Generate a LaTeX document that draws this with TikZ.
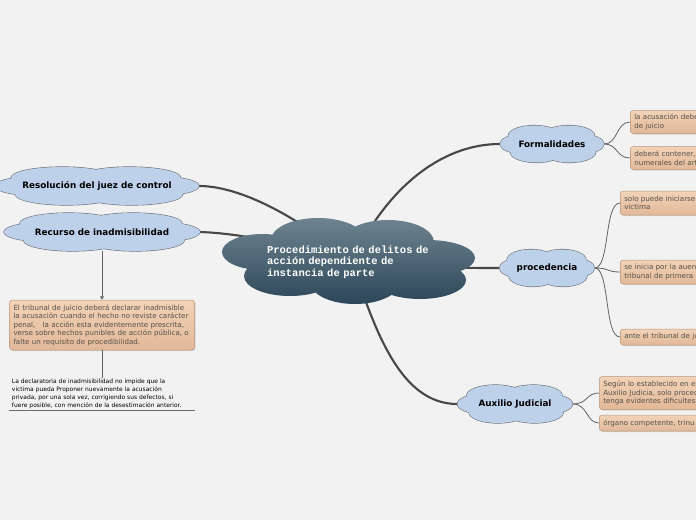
\documentclass[tikz,border=0pt]{standalone}
\usepackage{fontspec}
\setmainfont{DejaVu Sans}
\newfontfamily\monofont{Liberation Mono}
\usetikzlibrary{shadows,arrows.meta}
\definecolor{fondo}{HTML}{F2F2F2}
\definecolor{celeste}{HTML}{BDD1EA}
\definecolor{bordenube}{HTML}{6F7378}
\definecolor{pizarraA}{HTML}{6E838F}
\definecolor{pizarraB}{HTML}{2C4659}
\definecolor{cajaA}{HTML}{F2D3B8}
\definecolor{cajaB}{HTML}{E2B898}
\definecolor{cajaborde}{HTML}{B8957A}
\definecolor{textocaja}{HTML}{555049}
\definecolor{rama}{HTML}{474747}
\pgfdeclarelayer{fondocapa}
\pgfdeclarelayer{lineas}
\pgfsetlayers{fondocapa,lineas,main}
\tikzset{
  nubetexto/.style={rectangle, inner sep=0pt, font=\bfseries\fontsize{8.8}{10}\selectfont},
  caja/.style={rectangle, rounded corners=3pt, draw=cajaborde, line width=0.5pt,
    top color=cajaA, bottom color=cajaB, text=textocaja, align=left,
    inner xsep=4pt, inner ysep=2pt, font=\fontsize{7.1}{8.5}\selectfont,
    drop shadow={opacity=0.25, shadow xshift=1pt, shadow yshift=-1pt}},
  cajader/.style={caja, anchor=west, text width=140pt},
  ramagruesa/.style={draw=rama, line width=2.1pt, line cap=round},
  ramita/.style={draw=rama!85, line width=0.8pt}
}
% contorno de nube en unidades normalizadas (ancho 1, alto 1)
\newcommand\caminonube{(-0.17,-0.22) ellipse (0.25 and 0.28)
  (0.16,-0.22) ellipse (0.25 and 0.28)
  (-0.30,0) ellipse (0.20 and 0.25)
  (0.30,0) ellipse (0.20 and 0.25)
  (-0.15,0.22) ellipse (0.25 and 0.28)
  (0.17,0.22) ellipse (0.25 and 0.28)
  (0,0) ellipse (0.40 and 0.30)}
% nube azul: nombre, x, y, ancho, alto, texto
\newcommand\nubeazul[6]{%
  \begin{scope}[shift={(#2,#3)}, xscale=#4, yscale=#5]
    \draw[bordenube, line width=1.2pt] \caminonube;
    \fill[celeste] \caminonube;
  \end{scope}
  \node[nubetexto, minimum width=#4pt, minimum height=#5pt] (#1) at (#2,#3) {#6};
}
\begin{document}
\begin{tikzpicture}[x=1pt, y=-1pt]
\useasboundingbox (0,0) rectangle (696,520);
\clip (0,0) rectangle (696,520);
\begin{pgfonlayer}{fondocapa}
\fill[fondo] (0,0) rectangle (696,520);
\end{pgfonlayer}

% nodo central
\shade[top color=pizarraA, bottom color=pizarraB]
  (318,240) ellipse (47 and 22) (388,242) ellipse (46 and 22)
  (262,252) ellipse (40 and 18) (428,258) ellipse (47 and 18)
  (290,276) ellipse (46 and 20) (355,282) ellipse (45 and 22)
  (420,280) ellipse (46 and 19) (348,262) ellipse (90 and 25);
\node[text=white, text width=170pt, align=left, inner sep=0pt,
  font=\monofont\bfseries\fontsize{10.5}{11.7}\selectfont]
  (centro) at (352,262) {Procedimiento de delitos de\\acción dependiente de\\instancia de parte};

% ramas
\nubeazul{resol}{97}{186}{204}{38}{Resolución del juez de control}
\nubeazul{recurso}{102}{232}{196}{38}{Recurso de inadmisibilidad}
\nubeazul{formal}{552}{144}{104}{37}{Formalidades}
\nubeazul{proced}{547}{268}{95}{37}{procedencia}
\nubeazul{auxilio}{515}{404}{115}{38}{Auxilio Judicial}

% cajas
\node[caja, text width=177pt, minimum height=50pt] (juicio) at (102,325)
  {El tribunal de juicio deberá declarar inadmisible\\la acusación cuando el hecho no reviste carácter\\penal,\ \ \ la acción esta evidentemente prescrita,\\verse sobre hechos punibles de acción pública, o\\falte un requisito de procedibilidad.};
\node[text width=180pt, align=left, inner sep=1pt, font=\fontsize{5.95}{8}\selectfont] (nota) at (102,394)
  {La declaratoria de inadmisibilidad no impide que la\\victima pueda Proponer nuevamente la acusación\\privada, por una sola vez, corrigiendo sus defectos, si\\fuere posible, con mención de la desestimación anterior.};

\node[cajader, minimum height=23pt] (form1) at (630,122) {la acusación debe\\de juicio};
\node[cajader, minimum height=23pt] (form2) at (630,158) {deberá contener,\\numerales del art};
\node[cajader, minimum height=24pt] (proc1) at (620,203) {solo puede iniciarse\\victima};
\node[cajader, minimum height=24pt] (proc2) at (620,272) {se inicia por la auen\\tribunal de primera};
\node[cajader, minimum height=16pt] (proc3) at (620,337) {ante el tribunal de ju};
\node[cajader, minimum height=33pt] (aux1) at (599,393) {Según lo establecido en el\\Auxilio Judicia, solo proced\\tenga evidentes dificultes};
\node[cajader, minimum height=16pt] (aux2) at (599,423) {órgano competente, trinu};

\begin{pgfonlayer}{lineas}
\draw[ramagruesa] (centro.center) .. controls (385,190) and (440,144) .. (formal.west);
\draw[ramagruesa] (centro.center) .. controls (420,268) and (470,268) .. (proced.west);
\draw[ramagruesa] (centro.center) .. controls (375,330) and (400,404) .. (auxilio.west);
\draw[ramagruesa] (centro.center) .. controls (290,210) and (235,186) .. (resol.east);
\draw[ramagruesa] (centro.center) .. controls (280,240) and (230,233) .. (recurso.east);

\draw[ramita] (formal.east) .. controls (618,144) and (616,122) .. (form1.west);
\draw[ramita] (formal.east) .. controls (618,144) and (616,158) .. (form2.west);
\draw[ramita] (proced.east) .. controls (610,268) and (604,203) .. (proc1.west);
\draw[ramita] (proced.east) .. controls (610,268) and (606,272) .. (proc2.west);
\draw[ramita] (proced.east) .. controls (610,268) and (604,337) .. (proc3.west);
\draw[ramita] (auxilio.east) .. controls (588,404) and (586,393) .. (aux1.west);
\draw[ramita] (auxilio.east) .. controls (588,404) and (586,423) .. (aux2.west);
\end{pgfonlayer}

\draw[ramita, -{Triangle[width=4pt,length=3.5pt]}] (recurso.south) -- (juicio.north);
\draw[ramita] (juicio.south) -- (nota.north);
\draw[draw=rama!80, line width=0.8pt] ([xshift=-2pt]nota.south west) -- ([xshift=2pt]nota.south east);
\end{tikzpicture}
\end{document}
